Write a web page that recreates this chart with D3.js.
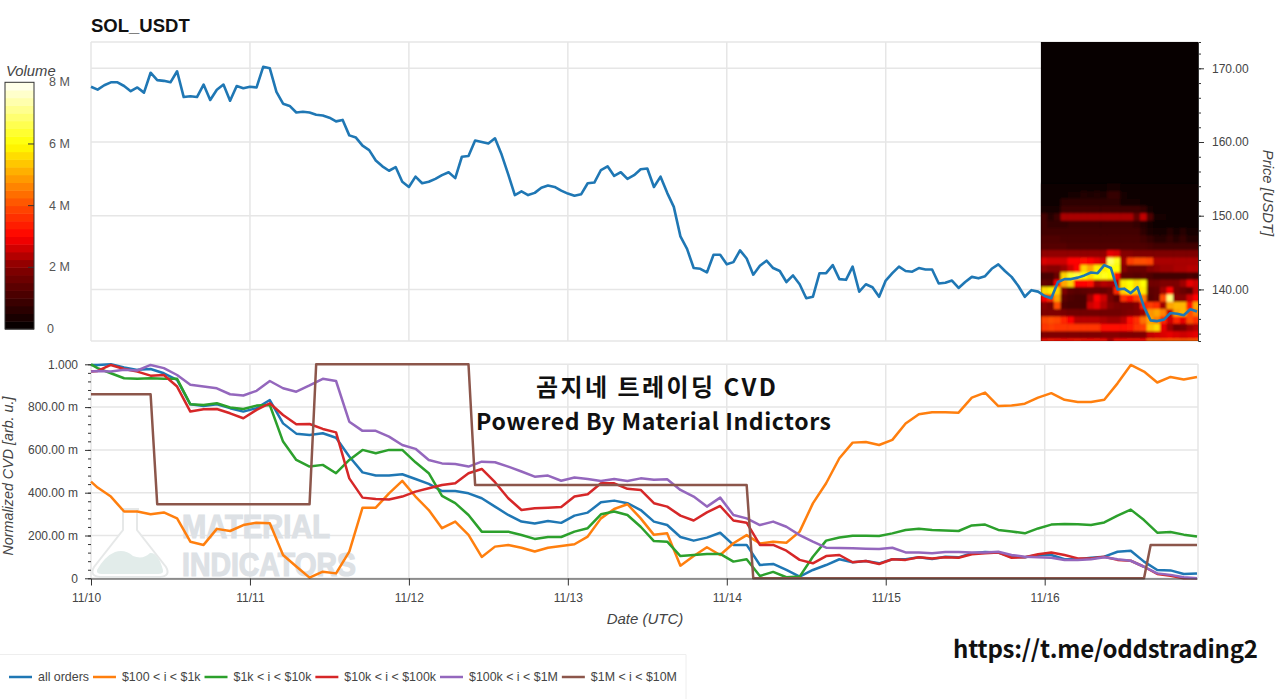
<!DOCTYPE html>
<html><head><meta charset="utf-8">
<script src="https://cdn.jsdelivr.net/npm/d3@7"></script>
<style>
html,body{margin:0;padding:0;background:#fff;overflow:hidden}
svg{display:block;font-family:"Liberation Sans",Arial,sans-serif}
.ax text{fill:#444;font-size:12px;font-family:"Liberation Sans",Arial,sans-serif}
.ax line,.ax path{stroke:#333}
</style></head><body><svg id="c" width="1280" height="699"></svg>
<script>
const title = "SOL_USDT";
const priceValues = [167.5,167.1,167.7,168.1,168.1,167.6,166.9,167.4,166.7,169.4,168.4,168.3,168.1,169.6,166.1,166.2,166.1,167.8,165.7,167.1,167.8,165.6,167.6,167.3,167.5,167.4,170.2,170,166.8,165.2,164.9,164,164.1,164,163.7,163.6,163.3,162.8,163,160.9,160.6,159.5,158.9,157.5,156.7,156.1,156.6,154.6,153.9,155.3,
154.4,154.6,155,155.5,155.9,155.1,158,158.1,160.2,160,159.8,160.5,158.3,155.6,152.8,153.3,152.8,153.1,153.8,154.1,153.9,153.4,153,152.7,152.9,154.4,154.5,156.2,156.7,155.4,155.9,155,155.5,156.3,156.4,153.9,155.3,153.1,151.2,147.2,145.5,142.9,142.8,142.3,144.7,
144.7,143.4,143.7,145.3,144.2,142,143.2,143.9,142.9,142.5,141,141.9,140.7,138.8,139,142.2,142.2,143.3,141.4,141.3,143.1,139.7,140.7,140.3,139,141.2,142.2,143.1,142.5,142.4,142.9,142.7,142.7,140.8,140.9,141.2,140.2,141,141.7,141.5,141.8,142.8,143.4,142.5,141.7,140.5,139,139.9,139.7,
139.1,138.8,141,141.4,141.4,141.6,141.9,142.3,142.2,143.3,142.9,140,140.1,139.5,140.3,137.6,135.8,135.7,135.9,136.8,136.7,136.5,137.3,137];
const cvdHours = [0,1,3,5,7,9,11,13,15,17,19,21,23,25,27,29,31,33,35,37,39,41,43,45,47,49,51,53,55,57,59,61,63,65,67,69,71,73,75,77,79,81,83,85,87,89,91,93,95,97,99,101,103,105,107,109,111,113,115,117,119,121,123,125,127,129,131,133,135,137,139,141,143,145,147,149,151,153,155,157,159,161,163,165,167];
const allOrders = [997,997,1000,985,974,978,958,927,813,805,813,795,779,795,833,724,676,670,678,657,569,495,480,480,486,464,
441,408,408,397,374,335,296,265,256,268,259,293,307,355,363,351,319,265,249,193,176,190,213,156,
156,62,67,39,8,39,62,89,75,81,70,89,89,98,90,101,98,117,123,120,101,98,109,109,89,89,96,101,124,129,78,39,37,20,23];
const tier100 = [452,424,382,312,312,299,308,280,171,156,231,221,249,260,257,109,55,3,31,23,125,330,330,397,455,382,
319,234,265,203,100,148,156,143,125,143,151,159,195,280,324,346,280,203,210,59,104,145,109,164,
202,163,171,166,218,350,444,561,634,637,623,647,723,767,776,776,774,844,868,805,807,816,844,865,834,824,824,834,911,997,966,915,941,929,941];
const tier1k = [1000,982,958,935,932,935,932,932,813,810,818,798,791,807,810,639,553,522,530,491,553,600,584,600,600,542,
491,385,351,296,218,218,218,202,184,193,193,218,234,299,312,296,241,174,171,104,109,114,114,78,
89,11,30,5,8,101,176,191,199,199,198,210,226,232,226,223,221,247,251,226,219,210,233,251,254,252,249,261,293,321,272,213,216,204,195];
const tier10k = [966,969,997,978,966,947,950,896,779,790,791,771,748,787,818,763,720,721,698,682,467,377,371,368,382,405,
421,436,444,491,511,449,374,319,327,330,333,382,393,444,444,418,413,351,335,293,270,308,338,270,
260,156,156,129,86,70,104,109,75,81,67,89,86,98,93,98,96,112,117,120,96,98,112,121,109,93,93,101,86,82,54,20,12,0,0];
const tier100k = [966,969,966,974,971,997,982,950,904,896,888,860,854,876,922,888,872,901,932,922,732,689,689,662,623,605,
553,537,534,522,545,542,522,499,475,480,456,471,464,455,464,455,467,460,463,413,382,335,377,296,
280,249,265,241,202,171,143,142,140,138,137,143,121,120,117,123,123,120,121,124,109,101,98,96,86,86,89,98,89,82,54,23,16,5,0];
const whaleHours = [0,9,10,33,34,57,58,99,100,159,160,167];
const tier1M = [860,860,346,346,1000,1000,436,436,0,0,156,156];
const seriesNames = ["all orders","$100 < i < $1k","$1k < i < $10k","$10k < i < $100k","$100k < i < $1M","$1M < i < $10M"];
const seriesColors = ["#1f77b4","#ff7f0e","#2ca02c","#d62728","#9467bd","#8c564b"];
const priceTicks = [140,150,160,170];
const cvdTicks = [0,200,400,600,800,1000];
const cvdTickLabels = ["0","200.00 m","400.00 m","600.00 m","800.00 m","1.000"];
const volumeTicks = [0,2,4,6,8];
const volumeTickLabels = ["0","2 M","4 M","6 M","8 M"];
const heatEdges = [133,133.4,134.4,135.4,136.4,137.4,138.4,139.4,140.4,141.4,142.4,143.4,144.4,145.4,146.4,147.4,148.4,149.4,150.4,151.4,152.4,153.4,154.4];
const heatRows = [
[3.2,3.4,3.3,3.2,3.3,3.4,3.3,3.2,3.3,3.1,2.4,3.1,3.2,3.3,3.3,3.2,4.2,4.2,4.1,4.2,4.2,4.1,4.2,4.2],
[1.9,1.9,1.9,1.9,1.9,1.9,1.9,1.9,1.9,2,2,2,1.9,1.9,1.9,1.9,2.5,2.6,2.7,2.8,2.7,2.6,2.7,2.8],
[3.7,3.8,3.7,3.7,3.7,3.7,3.7,3.7,3.7,3.2,3.2,3.1,3.1,3.3,3.7,3.8,5.3,5.6,2.8,2.2,1.7,1.8,2.2,2.4],
[3.9,4,3.9,3.5,3,2.4,2.4,2.4,2.4,2.3,2.2,2.2,2.4,3.1,3.6,4.4,5,4.6,3.5,2.6,3.5,2.8,4,3.6],
[1.9,1.9,1.9,1.8,1.7,1.7,1.7,1.7,1.7,1.7,1.7,1.7,1.8,1.9,2,2.2,4.8,5,4.6,2.5,5,5.2,4,4.5],
[2,1.8,4,1.2,1.1,1.1,1.1,2.6,2.8,2.4,2,1.8,1.8,1.8,2,3.4,3.8,3.6,2.2,5,5.2,5.2,3.3,5],
[3,3.5,5,1.4,1.2,1.1,1.1,2.2,3,2.6,1.8,1.4,3.6,3.2,3.8,4.5,1.3,1.5,4,7,2,2,2.6,3],
[5.6,5.8,5.5,1.9,1.4,1.3,1.4,1.5,1.5,1.5,1.7,3.5,5.5,6,5.5,5.8,1.4,1.5,2.2,3,1.8,1.6,1.4,2.5],
[1.5,1.4,3,5,5.5,3,3,3.2,2.2,2.4,2.3,2.5,5.8,6,5.6,6,1.7,1.7,1.9,1.9,1.9,2.2,2.8,2.6],
[1.1,1.1,1.6,5.5,6.3,6.5,6,5.6,6,6.2,6,3.2,1.4,1.4,1.3,1.4,1.2,1,1,1,1,1,1.1,1],
[2.1,2,2,2.2,2.6,3,5.5,5,5.8,5.8,6,6,2,1.6,1.6,1.6,2,2.1,2.2,2.2,2.3,2.3,2.4,2.4],
[2.7,2.6,2.6,2.6,3,3,3.2,3,2.8,2.6,6.8,6.2,2.2,3.8,4,4,3.9,2.3,2.3,2.3,2.3,2.3,2.3,2.3],
[2.1,2.1,2.1,2.1,2.1,2.1,2.1,2.1,2.1,2.1,2.8,2.7,2,2,1.9,1.9,1.9,1.9,1.9,1.9,1.9,1.9,1.9,1.9],
[1.3,1.3,1.3,1.3,1.2,1.2,1.2,1.2,1.2,1.2,1.2,1.2,1.2,1.2,1.2,1.2,1.1,1,1,1,1,1,1,1],
[1.2,1.2,1.2,1.1,1.1,1.1,1.1,1.1,1.1,1.1,1.1,1.1,1.1,1.1,1.1,1,.8,.6,.6,.8,.6,.8,.5,.5],
[1,1,1,1,1,1,1,1,1,1,1,1,1,1,1,.7,.4,.3,.3,.6,.3,.6,.3,.3],
[1,.8,.8,.8,.9,.9,.9,.9,.9,.9,.9,.9,.9,.9,.8,.6,.3,.2,.2,.2,.2,.2,.2,.2],
[1,.6,.9,2.3,2.3,2.3,2.3,2.3,2.3,2.3,2.3,2.3,2.3,2.3,1.5,2.5,1.2,.3,.3,.2,.2,.2,.2,.2],
[.3,.3,.3,.9,.9,.9,.9,.9,.9,.9,.9,.9,.9,.9,.9,.8,.3,.2,.2,.2,.2,.2,.2,.2],
[.2,.2,.2,.7,.7,.7,.7,.7,.7,.7,.7,.7,.3,.3,.3,.2,.2,.2,.2,.2,.2,.2,.2,.2],
[.2,.2,.2,.2,.3,.3,.5,.4,.5,.4,.8,.8,.3,.2,.2,.2,.2,.2,.2,.2,.2,.2,.2,.2],
[.1,.1,.1,.1,.1,.1,.1,.1,.1,.1,.3,.3,.1,.1,.1,.1,.1,.1,.1,.1,.1,.1,.1,.1]
];
const heatFloor = 0.1;
const heatStartHour = 143.4;
const heatColorStops = ["#000000","#850000","#ff0000","#ff4d00","#ffa500","#ffff00","#ffff80","#fffff8"];
const heatColorDomain = [0,2,3,4,5,6,7,8];

const svg = d3.select("#c");
const t0 = Date.UTC(2024,10,10);
const H = 3600e3;
const hourDate = h => new Date(t0 + h*H);
const L = 91, R = 1198;
const x = d3.scaleUtc().domain([hourDate(0),hourDate(167)]).range([L,R-1]);
const yP = d3.scaleLinear().domain([133,173.57]).range([341,42]);
const yC = d3.scaleLinear().domain([0,1000]).range([578.3,364.3]);
const color = d3.scaleLinear().domain(heatColorDomain).range(heatColorStops);
const days = d3.utcDay.range(hourDate(0),hourDate(168));
const gridCol = "#e6e6e6";

const defs = svg.append("defs");
defs.append("filter").attr("id","soft").append("feGaussianBlur").attr("stdDeviation",0.9);
defs.append("clipPath").attr("id","heatClip").append("rect").attr("x",x(hourDate(heatStartHour))).attr("y",42).attr("width",R-x(hourDate(heatStartHour))).attr("height",299);

// titles
svg.append("text").attr("x",91).attr("y",32).attr("font-size",18.5).attr("font-weight","bold").attr("fill","#111").text(title);

// upper grid
const gU = svg.append("g").attr("stroke",gridCol).attr("stroke-width",1.5);
gU.selectAll(".v").data(days).join("line").attr("x1",d=>x(d)).attr("x2",d=>x(d)).attr("y1",42).attr("y2",341);
gU.selectAll(".h").data(priceTicks).join("line").attr("x1",L).attr("x2",R).attr("y1",d=>yP(d)).attr("y2",d=>yP(d));
gU.append("line").attr("x1",L).attr("x2",R).attr("y1",42).attr("y2",42);
gU.append("line").attr("x1",L).attr("x2",R).attr("y1",341).attr("y2",341);

// heatmap
const heatG = svg.append("g").attr("clip-path","url(#heatClip)");
heatG.append("rect").attr("x",x(hourDate(heatStartHour))).attr("y",42).attr("width",R-x(hourDate(heatStartHour))).attr("height",299).attr("fill",color(heatFloor));
const heatInner = heatG.append("g").attr("filter","url(#soft)");
heatRows.forEach((row,r)=>{
  heatInner.selectAll(null).data(row).join("rect")
    .attr("x",(d,i)=>x(hourDate(heatStartHour+i)))
    .attr("width",(d,i)=>x(hourDate(heatStartHour+i+1))-x(hourDate(heatStartHour+i))+0.5)
    .attr("y",yP(heatEdges[r+1]))
    .attr("height",yP(heatEdges[r])-yP(heatEdges[r+1])+0.5)
    .attr("fill",d=>color(d));
});

// price line
svg.append("path").datum(priceValues).attr("fill","none").attr("stroke","#1f77b4").attr("stroke-width",2.6).attr("stroke-linejoin","round")
  .attr("d",d3.line().x((d,i)=>x(hourDate(i))).y(d=>yP(d)));

// price axis
const minorP = d3.range(134,174,2);
svg.append("g").attr("class","ax").attr("transform",`translate(${R},0)`)
  .call(d3.axisRight(yP).tickValues(minorP).tickSize(3).tickFormat(""))
  .call(g=>g.select(".domain").attr("stroke","#333"));
svg.append("g").attr("class","ax").attr("transform",`translate(${R},0)`)
  .call(d3.axisRight(yP).tickValues(priceTicks).tickSize(6).tickPadding(8).tickFormat(d3.format(".2f")))
  .call(g=>g.select(".domain").remove());
svg.append("text").attr("transform","translate(1263,193) rotate(90)").attr("text-anchor","middle")
  .attr("font-size",14.8).attr("font-style","italic").attr("fill","#444").text("Price [USDT]");

// colour bar
const yV = d3.scaleLinear().domain([0,8]).range([329,82.3]);
const cbSteps = d3.range(0,8,0.25);
svg.append("g").selectAll("rect").data(cbSteps).join("rect")
  .attr("x",5).attr("width",29).attr("y",d=>yV(d+0.25)).attr("height",d=>yV(d)-yV(d+0.25)+0.5).attr("fill",d=>color(d+0.125));
svg.append("rect").attr("x",5).attr("y",82.3).attr("width",29).attr("height",246.7).attr("fill","none").attr("stroke","#333").attr("stroke-width",1);
svg.append("g").selectAll("line").data(volumeTicks.slice(1,4)).join("line")
  .attr("x1",28).attr("x2",34).attr("y1",d=>yV(d)).attr("y2",d=>yV(d)).attr("stroke","#333");
svg.append("g").selectAll("text").data(volumeTicks).join("text")
  .attr("x",d=>d===0?47:49).attr("y",d=>yV(d)+4).attr("font-size",12.5).attr("fill","#555")
  .text((d,i)=>volumeTickLabels[i]);
svg.append("text").attr("x",6).attr("y",76).attr("font-size",14.8).attr("font-style","italic").attr("fill","#444").text("Volume");

// lower grid
const gL = svg.append("g").attr("stroke",gridCol).attr("stroke-width",1.5);
gL.selectAll(".v").data(days).join("line").attr("x1",d=>x(d)).attr("x2",d=>x(d)).attr("y1",364).attr("y2",578);
gL.selectAll(".h").data(cvdTicks).join("line").attr("x1",L).attr("x2",R).attr("y1",d=>yC(d)).attr("y2",d=>yC(d));
gL.append("line").attr("x1",R).attr("x2",R).attr("y1",364).attr("y2",578);

// watermark
const wm = svg.append("g");
wm.append("path").attr("d","M120,509 L139,509 M123,509 L123,530 L94,567 Q89,576 100,577 L160,577 Q171,576 166,567 L137,530 L137,509")
  .attr("fill","#fff").attr("stroke","#e6e8e8").attr("stroke-width",2);
wm.append("path").attr("d","M97,570 Q105,556 115,552 Q125,549 133,556 Q143,560 150,553 Q158,552 163,570 Q164,574 158,574 L102,574 Q96,574 97,570 Z").attr("fill","#e2ecea");
wm.append("text").attr("x",182).attr("y",538).attr("font-size",32.5).attr("font-weight","bold").attr("fill","#dde1e5").attr("stroke","#dde1e5").attr("stroke-width",1.2)
  .attr("textLength",148).attr("lengthAdjust","spacingAndGlyphs").text("MATERIAL");
wm.append("text").attr("x",182).attr("y",576).attr("font-size",32.5).attr("font-weight","bold").attr("fill","#dde1e5").attr("stroke","#dde1e5").attr("stroke-width",1.2)
  .attr("textLength",174).attr("lengthAdjust","spacingAndGlyphs").text("INDICATORS");

// annotation
svg.append("text").attr("x",656).attr("y",396).attr("text-anchor","middle").attr("font-family","'Noto Sans CJK KR'").attr("font-weight","bold").attr("font-size",24).attr("fill","#111").attr("textLength",240).text("곰지네 트레이딩 CVD");
svg.append("text").attr("x",653.5).attr("y",430).attr("text-anchor","middle").attr("font-family","'Noto Sans CJK KR'").attr("font-weight","bold").attr("font-size",23).attr("fill","#111").attr("textLength",355).text("Powered By Material Indictors");

// CVD lines
const lineC = d3.line().x(d=>x(hourDate(d[0]))).y(d=>yC(d[1]));
[allOrders,tier100,tier1k,tier10k,tier100k].forEach((vals,i)=>{
  svg.append("path").datum(vals.map((v,j)=>[cvdHours[j],v])).attr("fill","none")
    .attr("stroke",seriesColors[i]).attr("stroke-width",2.5).attr("stroke-linejoin","round").attr("d",lineC);
});
svg.append("path").datum(tier1M.map((v,j)=>[whaleHours[j],v])).attr("fill","none")
  .attr("stroke",seriesColors[5]).attr("stroke-width",2.5).attr("stroke-linejoin","round").attr("d",lineC);

// CVD axes
svg.append("g").attr("class","ax").attr("transform",`translate(${L},0)`)
  .call(d3.axisLeft(yC).tickValues(d3.range(0,1001,40)).tickSize(3).tickFormat(""))
  .call(g=>g.select(".domain").remove());
svg.append("g").attr("class","ax").attr("transform",`translate(${L},0)`)
  .call(d3.axisLeft(yC).tickValues(cvdTicks).tickSize(6).tickPadding(7).tickFormat((d,i)=>cvdTickLabels[i]))
  .call(g=>g.select(".domain").remove());
svg.append("g").attr("class","ax").attr("transform","translate(0,578.5)")
  .call(d3.axisBottom(x).tickValues(days).tickSize(7).tickPadding(8).tickSizeOuter(0).tickFormat(d3.utcFormat("%m/%d")))
  .call(g=>g.select(".domain").attr("stroke-width",1.2))
  .call(g=>g.selectAll("text").attr("dx",(d,i)=>i===0?-5:0));
svg.append("text").attr("transform","translate(13,476) rotate(-90)").attr("text-anchor","middle").attr("font-size",14.3).attr("font-style","italic").attr("fill","#444").text("Normalized CVD [arb. u.]");
svg.append("text").attr("x",645).attr("y",624).attr("text-anchor","middle").attr("font-size",15).attr("font-style","italic").attr("fill","#444").text("Date (UTC)");

// url
svg.append("text").attr("x",953).attr("y",658).attr("font-family","'Noto Sans CJK KR'").attr("font-weight","bold").attr("font-size",24).attr("fill","#111").attr("textLength",305).text("https://t.me/oddstrading2");

// legend
svg.append("path").attr("d","M0,654.5 H686 V699").attr("fill","none").attr("stroke","#eee");
let lx = 9;
const lg = svg.append("g");
seriesNames.forEach((n,i)=>{
  lg.append("line").attr("x1",lx).attr("x2",lx+23).attr("y1",677).attr("y2",677).attr("stroke",seriesColors[i]).attr("stroke-width",2.5);
  const t = lg.append("text").attr("x",lx+29).attr("y",681).attr("font-size",12.4).attr("fill","#444").text(n);
  lx += 29 + t.node().getComputedTextLength() + 4;
});
</script></body></html>
